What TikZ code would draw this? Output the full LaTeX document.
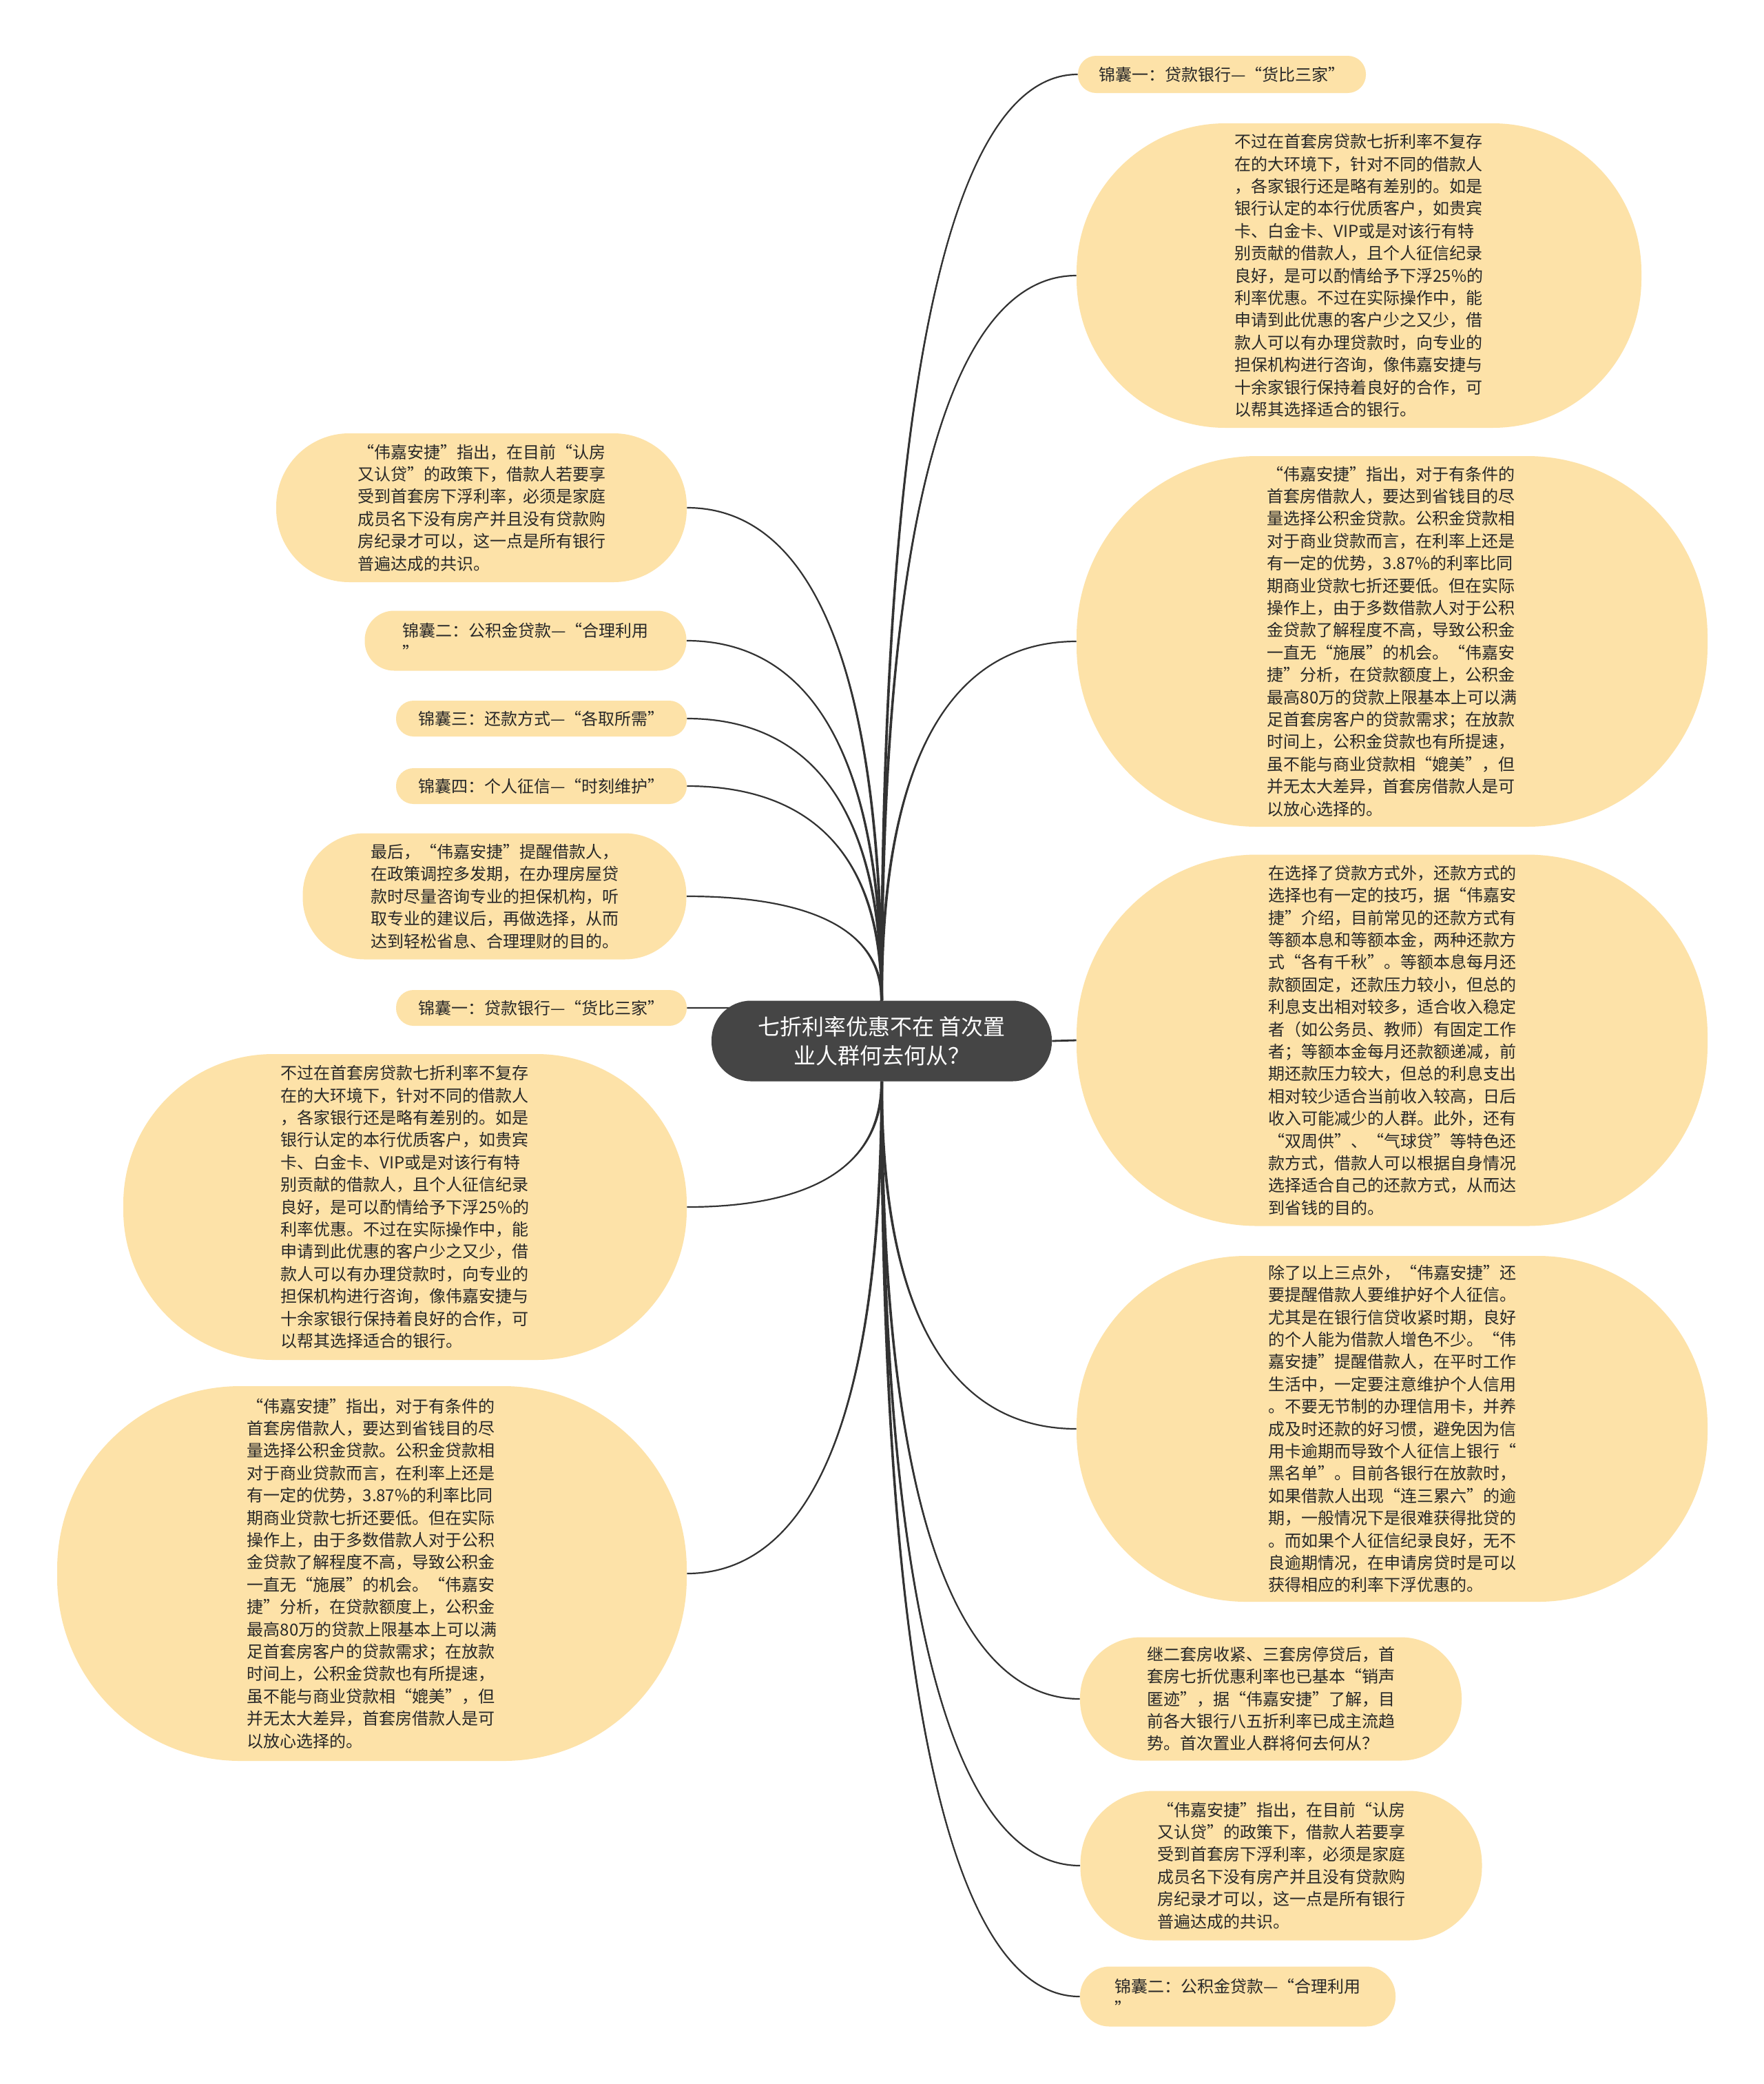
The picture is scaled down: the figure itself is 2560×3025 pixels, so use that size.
\documentclass[tikz,border=0pt]{standalone}
\usepackage{fontspec}
\setmainfont{Noto Sans CJK SC}
\usetikzlibrary{calc,backgrounds}
\definecolor{nodefill}{RGB}{253,226,168}
\definecolor{hubfill}{RGB}{69,69,69}
\definecolor{linkcol}{RGB}{51,51,51}
\definecolor{textcol}{RGB}{40,40,40}
\tikzset{
  bub/.style={fill=nodefill, text=textcol, align=left, inner sep=0pt,
    font=\fontsize{12pt}{16.2pt}\selectfont},
  hub/.style={fill=hubfill, text=white, align=center, inner sep=0pt,
    font=\fontsize{16pt}{21pt}\selectfont},
  link/.style={draw=linkcol, line width=1.1pt},
  taper/.style={fill=linkcol},
}
\newcommand\conn[2]{%
  \draw[link] let \p1=(#1), \p2=(#2) in (\p1) .. controls (\x1,{\y1+0.8*(\y2-\y1)}) and ({\x1+0.5*(\x2-\x1)},\y2) .. (\p2);%
  \fill[taper] let \p1=(#1), \p2=(#2) in
    ({\x1-1pt},\y1) .. controls ({\x1-1pt},{\y1+0.8*(\y2-\y1)}) and ({\x1+0.5*(\x2-\x1)},\y2) .. (\p2)
    .. controls ({\x1+0.5*(\x2-\x1)},\y2) and ({\x1+1pt},{\y1+0.8*(\y2-\y1)}) .. ({\x1+1pt},\y1) -- cycle;}
\begin{document}
\begin{tikzpicture}[x=0.5pt,y=-0.5pt]
\useasboundingbox (0,0) rectangle (2560,3025);

\node[hub, minimum width=247pt, minimum height=58.5pt, rounded corners=28.6pt] (C) at (1280,1511) {七折利率优惠不在 首次置\\业人群何去何从？};

% right side
\node[bub, minimum width=209pt, minimum height=27pt, rounded corners=13.2pt] (R1) at (1774,108) {锦囊一：贷款银行—“货比三家”};
\node[bub, minimum width=410pt, minimum height=221pt, rounded corners=108pt] (R2) at (1973,400) {不过在首套房贷款七折利率不复存\\在的大环境下，针对不同的借款人\\，各家银行还是略有差别的。如是\\银行认定的本行优质客户，如贵宾\\卡、白金卡、VIP或是对该行有特\\别贡献的借款人，且个人征信纪录\\良好，是可以酌情给予下浮25\%的\\利率优惠。不过在实际操作中，能\\申请到此优惠的客户少之又少，借\\款人可以有办理贷款时，向专业的\\担保机构进行咨询，像伟嘉安捷与\\十余家银行保持着良好的合作，可\\以帮其选择适合的银行。};
\node[bub, minimum width=458pt, minimum height=269pt, rounded corners=131pt] (R3) at (2021,931) {“伟嘉安捷”指出，对于有条件的\\首套房借款人，要达到省钱目的尽\\量选择公积金贷款。公积金贷款相\\对于商业贷款而言，在利率上还是\\有一定的优势，3.87\%的利率比同\\期商业贷款七折还要低。但在实际\\操作上，由于多数借款人对于公积\\金贷款了解程度不高，导致公积金\\一直无“施展”的机会。“伟嘉安\\捷”分析，在贷款额度上，公积金\\最高80万的贷款上限基本上可以满\\足首套房客户的贷款需求；在放款\\时间上，公积金贷款也有所提速，\\虽不能与商业贷款相“媲美”，但\\并无太大差异，首套房借款人是可\\以放心选择的。};
\node[bub, minimum width=458pt, minimum height=269.5pt, rounded corners=131pt] (R4) at (2021,1510) {在选择了贷款方式外，还款方式的\\选择也有一定的技巧，据“伟嘉安\\捷”介绍，目前常见的还款方式有\\等额本息和等额本金，两种还款方\\式“各有千秋”。等额本息每月还\\款额固定，还款压力较小，但总的\\利息支出相对较多，适合收入稳定\\者（如公务员、教师）有固定工作\\者；等额本金每月还款额递减，前\\期还款压力较大，但总的利息支出\\相对较少适合当前收入较高，日后\\收入可能减少的人群。此外，还有\\“双周供”、“气球贷”等特色还\\款方式，借款人可以根据自身情况\\选择适合自己的还款方式，从而达\\到省钱的目的。};
\node[bub, minimum width=458pt, minimum height=251pt, rounded corners=123pt] (R5) at (2021,2074) {除了以上三点外，“伟嘉安捷”还\\要提醒借款人要维护好个人征信。\\尤其是在银行信贷收紧时期，良好\\的个人能为借款人增色不少。“伟\\嘉安捷”提醒借款人，在平时工作\\生活中，一定要注意维护个人信用\\。不要无节制的办理信用卡，并养\\成及时还款的好习惯，避免因为信\\用卡逾期而导致个人征信上银行“\\黑名单”。目前各银行在放款时，\\如果借款人出现“连三累六”的逾\\期，一般情况下是很难获得批贷的\\。而如果个人征信纪录良好，无不\\良逾期情况，在申请房贷时是可以\\获得相应的利率下浮优惠的。};
\node[bub, minimum width=277pt, minimum height=89.5pt, rounded corners=44pt] (R6) at (1845,2466) {继二套房收紧、三套房停贷后，首\\套房七折优惠利率也已基本“销声\\匿迹”，据“伟嘉安捷”了解，目\\前各大银行八五折利率已成主流趋\\势。首次置业人群将何去何从？};
\node[bub, minimum width=291.5pt, minimum height=108.5pt, rounded corners=53pt] (R7) at (1860,2708) {“伟嘉安捷”指出，在目前“认房\\又认贷”的政策下，借款人若要享\\受到首套房下浮利率，必须是家庭\\成员名下没有房产并且没有贷款购\\房纪录才可以，这一点是所有银行\\普遍达成的共识。};
\node[bub, minimum width=229pt, minimum height=43.5pt, rounded corners=21.3pt] (R8) at (1797,2898) {锦囊二：公积金贷款—“合理利用\\”};

% left side
\node[bub, minimum width=298pt, minimum height=108pt, rounded corners=53pt] (L1) at (699,737) {“伟嘉安捷”指出，在目前“认房\\又认贷”的政策下，借款人若要享\\受到首套房下浮利率，必须是家庭\\成员名下没有房产并且没有贷款购\\房纪录才可以，这一点是所有银行\\普遍达成的共识。};
\node[bub, minimum width=233.5pt, minimum height=43.5pt, rounded corners=21.3pt] (L2) at (763,930) {锦囊二：公积金贷款—“合理利用\\”};
\node[bub, minimum width=211pt, minimum height=26pt, rounded corners=12.7pt] (L3) at (786,1043) {锦囊三：还款方式—“各取所需”};
\node[bub, minimum width=211pt, minimum height=26pt, rounded corners=12.7pt] (L4) at (786,1141) {锦囊四：个人征信—“时刻维护”};
\node[bub, minimum width=278.5pt, minimum height=91.5pt, rounded corners=44.8pt] (L5) at (718,1301) {最后，“伟嘉安捷”提醒借款人，\\在政策调控多发期，在办理房屋贷\\款时尽量咨询专业的担保机构，听\\取专业的建议后，再做选择，从而\\达到轻松省息、合理理财的目的。};
\node[bub, minimum width=211pt, minimum height=26pt, rounded corners=12.7pt] (L6) at (786,1463) {锦囊一：贷款银行—“货比三家”};
\node[bub, minimum width=409pt, minimum height=222pt, rounded corners=108.8pt] (L7) at (588,1752) {不过在首套房贷款七折利率不复存\\在的大环境下，针对不同的借款人\\，各家银行还是略有差别的。如是\\银行认定的本行优质客户，如贵宾\\卡、白金卡、VIP或是对该行有特\\别贡献的借款人，且个人征信纪录\\良好，是可以酌情给予下浮25\%的\\利率优惠。不过在实际操作中，能\\申请到此优惠的客户少之又少，借\\款人可以有办理贷款时，向专业的\\担保机构进行咨询，像伟嘉安捷与\\十余家银行保持着良好的合作，可\\以帮其选择适合的银行。};
\node[bub, minimum width=457pt, minimum height=272pt, rounded corners=133pt] (L8) at (540,2284) {“伟嘉安捷”指出，对于有条件的\\首套房借款人，要达到省钱目的尽\\量选择公积金贷款。公积金贷款相\\对于商业贷款而言，在利率上还是\\有一定的优势，3.87\%的利率比同\\期商业贷款七折还要低。但在实际\\操作上，由于多数借款人对于公积\\金贷款了解程度不高，导致公积金\\一直无“施展”的机会。“伟嘉安\\捷”分析，在贷款额度上，公积金\\最高80万的贷款上限基本上可以满\\足首套房客户的贷款需求；在放款\\时间上，公积金贷款也有所提速，\\虽不能与商业贷款相“媲美”，但\\并无太大差异，首套房借款人是可\\以放心选择的。};

\begin{pgfonlayer}{background}
\fill[white] (0,0) rectangle (2560,3025);
\conn{C.north}{R1.west}
\conn{C.north}{R2.west}
\conn{C.north}{R3.west}
\draw[link, line width=1.4pt] (C.east) -- (R4.west);
\conn{C.south}{R5.west}
\conn{C.south}{R6.west}
\conn{C.south}{R7.west}
\conn{C.south}{R8.west}
\conn{C.north}{L1.east}
\conn{C.north}{L2.east}
\conn{C.north}{L3.east}
\conn{C.north}{L4.east}
\conn{C.north}{L5.east}
\conn{C.north}{L6.east}
\conn{C.south}{L7.east}
\conn{C.south}{L8.east}
\end{pgfonlayer}
\end{tikzpicture}
\end{document}
